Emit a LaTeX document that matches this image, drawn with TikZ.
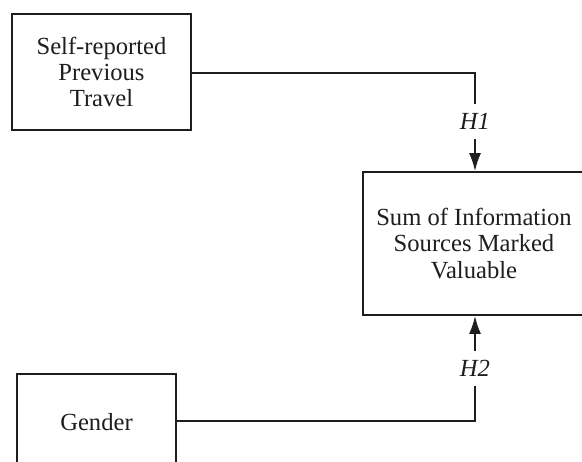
\documentclass[tikz,border=0pt]{standalone}
\usepackage{fontspec}
\setmainfont{Liberation Serif}
\usetikzlibrary{arrows.meta, positioning}
\definecolor{InkDark}{RGB}{30,30,30}

\begin{document}
\begin{tikzpicture}[x=0.5pt,y=-0.5pt,
        nd/.style={draw=InkDark,line width=0.9pt,fill=white,align=center,
                   text=InkDark,font=\fontsize{12.3}{13.2}\selectfont,inner sep=0pt},
        hyp/.style={font=\fontsize{12.3}{13}\itshape,text=InkDark,inner sep=0pt,
                    minimum height=17pt},
        arr/.style={-{Latex[length=9pt,width=6pt]},InkDark,line width=0.9pt},
        ln/.style={InkDark,line width=0.9pt}
      ]
        \clip (0,0) rectangle (582,461);
        \fill[white] (0,0) rectangle (582,461);
        % Predictors and outcome
        \node[nd,minimum width=89.5pt,minimum height=58pt] (trav) at (101.5,72) {Self-reported\\Previous\\Travel};
        \node[nd,minimum width=111pt,minimum height=71.5pt] (sumv) at (474,243.5) {Sum of Information\\Sources Marked\\Valuable};
        \node[nd,minimum width=79.5pt,minimum height=48pt] (gend) at (96.5,422) {Gender};
        % Hypothesis labels
        \node[hyp] (h1) at (475,121.5) {H1};
        \node[hyp] (h2) at (475,368.5) {H2};
        \draw[ln] (trav.east|-0,73) -| (h1.north);
        \draw[arr] (h1.south) -- (sumv.north-|h1);
        \draw[ln] (gend.east|-0,421) -| (h2.south);
        \draw[arr] (h2.north) -- (sumv.south-|h2);
      \end{tikzpicture}
\end{document}
